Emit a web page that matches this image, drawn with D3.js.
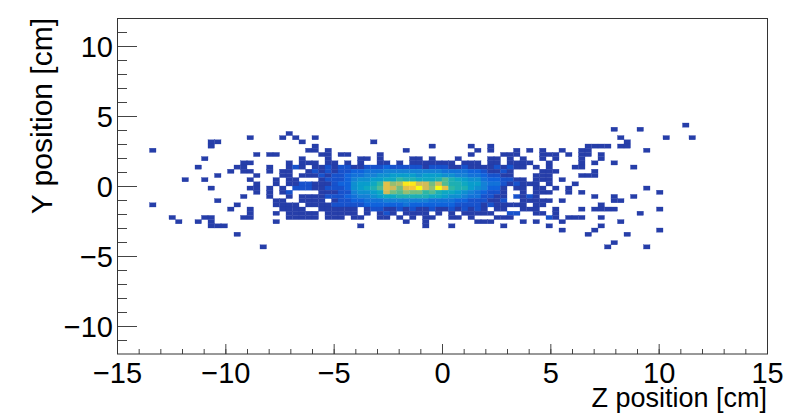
<!DOCTYPE html>
<html>
<head>
<meta charset="utf-8">
<script src="https://cdn.jsdelivr.net/npm/d3@7"></script>
<style>
body { margin: 0; background: #fff; }
text { font-family: "Liberation Sans", Arial, sans-serif; fill: #000; }
</style>
</head>
<body>
<svg width="788" height="414"></svg>
<script>
var zTicks = [-15, -10, -5, 0, 5, 10, 15];
var yTicks = [-10, -5, 0, 5, 10];
var zMinor = d3.range(-14, 15);
var yMinor = d3.range(-11, 12);
var binSize = 0.3;
var firstRow = 25;

// ROOT kBird palette
var birdStops = ["#352a87", "#0f5cdd", "#1481d6", "#06a4ca", "#2eb7a4", "#87bf77", "#d1bb59", "#fec832", "#f9fb0e"];
var maxCount = 20;

// one string per y bin, top down: "firstZBin:counts", counts in base 36
var rowCounts = [
    "87:1",
    "76:1 80:1",
    "26:1",
    "20:1 25:1 27:1 30:1 77:1 84:1 88:1",
    "14:11 28:1 39:1 78:1",
    "14:1 30:1 48:1 54:1 57:1 72:1111 77:11",
    "5:1 29:11 32:1 44:1 55:1 57:1 61:1 63:1 65:1 68:1 71:11 81:1",
    "21:1 23:11 31:11 34:11 40:1 54:1 59:111 65:111 69:1 71:11 74:1",
    "13:1 28:1 32:1 37:11 40:1 45:11 48:1 52:1 57:11 60:1 62:1 65:1 67:1 71:1 74:1",
    "19:11 26:1 28:111 32:11 35:1 37:1 40:11 43:1 45:1111 49:111 53:111 57:11 60:1111 66:1 71:1 73:1 76:1",
    "12:1 18:11 23:1 26:121.112122 36:1122232222 46:2122211211 56:1121211 64:1 66:1 70:11 79:1",
    "17:1 19:11 23:1 25:11 29:1212122 36:3344455555 46:5555444433 56:21121 65:111 73:1",
    "15:1 21:1 25:11 28:11121223 36:4455667777 46:6777665544 56:32211 64:111 71:111",
    "10:1 13:1 20:1 24:1 26:11...12223 36:5667788a99 46:8889b98766 56:4332211 64:111 68:1",
    "21:1 24:1 26:11221 31:11233 36:6778agdejj 46:ffcfb99877 56:5442121 63:11 66:1 70:1",
    "14:1 20:11 23:1 25:1 27:222112223 36:6789bgfcgh 46:kfdkga9976 56:5331.11 64:11 67:1 69:1 81:1",
    "21:1 23:1 25:1 26:2 31:11122 36:56678fcbdc 46:cab9887654 56:3221..1 64:111 69:1 71:1 83:1",
    "19:1 23:1 26:1.11112223 36:4556788999 46:9988766544 56:2211.21 63:21 73:1 76:1 79:1",
    "15:1 24:11 28:1111.122 36:3344455555 46:5544443322 56:2112..1 63:1111 68:1 76:11",
    "5:1 18:1 24:11 26:11.1111222 36:2233333343 46:3333332222 56:1211111 64:11 74:1",
    "17:1 20:1 25:1 26:111..11111 36:1.12211212 46:1121121212 56:1.11..1 63:11 67:1 71:1 73:1111 83:1",
    "20:1 24:1 26:11111.1111 36:1.1.121.11 46:11.1.1.111 56:11..22. 64:11 67:1 80:1",
    "8:1 13:11 19:11 26:11111.111. 36:11..11.1.1 46:.11..11.1. 58:111 66:21 69:111 74:1",
    "9:1 12:1 14:1 24:1 44:1 47:1 55:111 62:1 64:1 68:1 77:1",
    "14:111 37:1 47:1 51:1 59:1 66:1 74:1",
    "68:1 73:1 83:1",
    "18:1 72:1 78:1",
    "",
    "76:1",
    "22:1 75:1 81:1"
];

var margin = { left: 117, right: 21, top: 18, bottom: 60 };
var width = 788 - margin.left - margin.right;
var height = 414 - margin.top - margin.bottom;

var svg = d3.select('svg');
var x = d3.scaleLinear().domain([-15, 15]).range([margin.left, margin.left + width]);
var y = d3.scaleLinear().domain([-12, 12]).range([margin.top + height, margin.top]);

var color = d3.scaleLinear()
    .domain(birdStops.map(function(d, i) { return i / (birdStops.length - 1) * maxCount; }))
    .range(birdStops);

// unpack the row strings into cells
var cells = [];
rowCounts.forEach(function(row, r) {
    row.split(' ').forEach(function(run) {
        if (!run) return;
        var parts = run.split(':');
        var start = +parts[0];
        parts[1].split('').forEach(function(c, i) {
            if (c !== '.') cells.push({ iz: start + i, iy: firstRow + r, n: parseInt(c, 36) });
        });
    });
});

svg.selectAll('rect.bin')
    .data(cells).enter()
    .append('rect')
    .attr('class', 'bin')
    .attr('x', function(d) { return x(-15 + d.iz * binSize); })
    .attr('width', function(d) { return x(-15 + (d.iz + 1) * binSize) - x(-15 + d.iz * binSize); })
    .attr('y', function(d) { return y(12 - d.iy * binSize); })
    .attr('height', function(d) { return y(12 - (d.iy + 1) * binSize) - y(12 - d.iy * binSize); })
    .attr('fill', function(d) { return color(d.n); })
    .attr('stroke', function(d) { return color(d.n); })
    .attr('stroke-width', 0.3);

function drawAxis(axis, transform) {
    var g = svg.append('g').attr('transform', transform).call(axis);
    g.select('.domain').remove();
    g.selectAll('line').attr('stroke', '#444').attr('stroke-width', 1);
    return g;
}

drawAxis(d3.axisTop(x).tickValues(zMinor).tickSize(5).tickFormat(''), 'translate(0,' + y(-12) + ')');
drawAxis(d3.axisLeft(y).tickValues(yMinor).tickSize(-10).tickFormat(''), 'translate(' + x(-15) + ',0)');

var xMajor = drawAxis(d3.axisTop(x).tickValues(zTicks).tickSize(10).tickFormat(d3.format('d')), 'translate(0,' + y(-12) + ')');
xMajor.selectAll('text')
    .attr('y', 29)
    .attr('dy', 0)
    .attr('font-size', 29)
    .attr('text-anchor', 'middle');

var yMajor = drawAxis(d3.axisLeft(y).tickValues(yTicks).tickSize(-20).tickFormat(d3.format('d')), 'translate(' + x(-15) + ',0)');
yMajor.selectAll('text')
    .attr('x', -4)
    .attr('dy', '0.37em')
    .attr('font-size', 29)
    .attr('text-anchor', 'end');

svg.selectAll('.tick text').style('font-family', '"Liberation Sans", Arial, sans-serif');

svg.append('rect')
    .attr('x', x(-15) + 0.5)
    .attr('y', y(12) + 0.5)
    .attr('width', x(15) - x(-15))
    .attr('height', y(-12) - y(12) - 0.5)
    .attr('fill', 'none')
    .attr('stroke', '#333')
    .attr('stroke-width', 1);

svg.append('text')
    .attr('x', 767)
    .attr('y', 407)
    .attr('text-anchor', 'end')
    .attr('font-size', 27)
    .text('Z position [cm]');

svg.append('text')
    .attr('transform', 'translate(52,18) rotate(-90)')
    .attr('text-anchor', 'end')
    .attr('font-size', 30)
    .text('Y position [cm]');
</script>
</body>
</html>
